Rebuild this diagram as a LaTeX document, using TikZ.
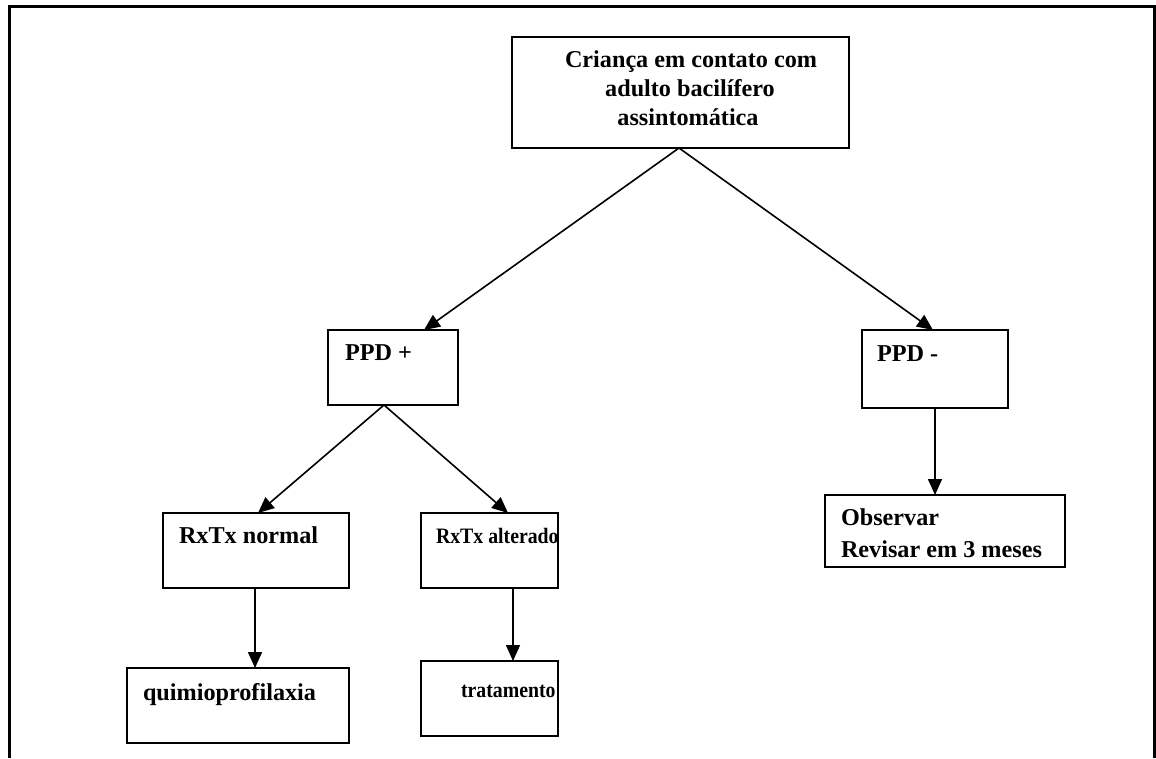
\documentclass[tikz,border=0pt]{standalone}
\usepackage{fontspec}
\setmainfont{Liberation Serif}
\usetikzlibrary{arrows.meta}
\newcommand{\narrowtxt}[1]{\scalebox{0.9}[1]{#1}}
\begin{document}
\begin{tikzpicture}[x=1pt,y=-1pt,
  box/.style={draw=black,line width=1.8pt,inner sep=0pt,outer sep=0pt,anchor=north west},
  lbl/.style={inner sep=0pt,outer sep=0pt,anchor=base west,font=\fontsize{24.2}{29}\selectfont\bfseries},
  slbl/.style={lbl,font=\fontsize{22}{26}\selectfont\bfseries},
  clbl/.style={lbl,anchor=base},
  conn/.style={line width=1.6pt,-{Triangle[length=16pt,width=14pt]}}]
\useasboundingbox (0,0) rectangle (1156,758);
\draw[line width=3pt] (9.5,758) -- (9.5,6) -- (1154.5,6) -- (1154.5,758);
% boxes
\node[box,minimum width=337,minimum height=111] (top) at (512,37) {};
\node[box,minimum width=130,minimum height=75] (ppdp) at (328,330) {};
\node[box,minimum width=146,minimum height=78] (ppdm) at (862,330) {};
\node[box,minimum width=186,minimum height=75] (rxn) at (163,513) {};
\node[box,minimum width=137,minimum height=75] (rxa) at (421,513) {};
\node[box,minimum width=240,minimum height=72] (obs) at (825,495) {};
\node[box,minimum width=222,minimum height=75] (qui) at (127,668) {};
\node[box,minimum width=137,minimum height=75] (tra) at (421,661) {};
% texts
\node[clbl] (c1) at (691,67) {Criança em contato com};
\node[clbl] (c2) at (690,96) {adulto bacilífero};
\node[clbl] (c3) at (688,125) {assintomática};
\node[lbl] (tp) at (345,360) {PPD +};
\node[lbl] (tm) at (877,361) {PPD -};
\node[lbl] (tn) at (179,543) {RxTx normal};
\node[slbl] (ta) at (436,543) {\narrowtxt{RxTx alterado}};
\node[lbl] (to1) at (841,525) {Observar};
\node[lbl] (to2) at (841,557) {Revisar em 3 meses};
\node[lbl] (tq) at (143,700) {quimioprofilaxia};
\node[slbl] (tt) at (461,697) {\narrowtxt{tratamento}};
% connectors
\draw[conn] ([xshift=-1.5pt]top.south) -- ([xshift=31pt]ppdp.north);
\draw[conn] ([xshift=-1.5pt]top.south) -- ([xshift=-2pt]ppdm.north);
\draw[conn] ([xshift=-9pt]ppdp.south) -- ([xshift=2pt]rxn.north);
\draw[conn] ([xshift=-9pt]ppdp.south) -- ([xshift=18.5pt]rxa.north);
\draw[conn] ([xshift=-1pt]rxn.south) -- ([xshift=17pt]qui.north);
\draw[conn] ([xshift=23.5pt]rxa.south) -- ([xshift=23.5pt]tra.north);
\draw[conn] ([xshift=-10pt]obs.north |- ppdm.south) -- ([xshift=-10pt]obs.north);
\end{tikzpicture}
\end{document}
